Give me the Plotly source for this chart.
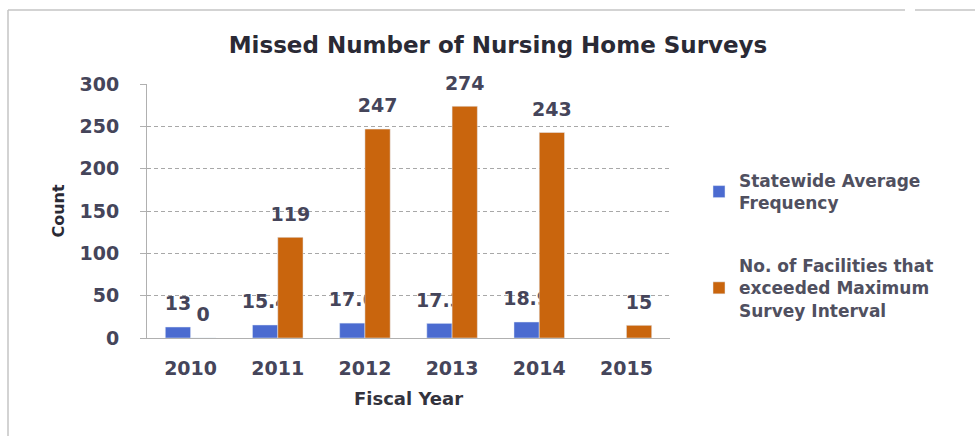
import plotly.graph_objects as go

years = ["2010", "2011", "2012", "2013", "2014", "2015"]
avg_frequency = [13, 15.4, 17.6, 17.3, 18.9, None]
exceeded_interval = [0, 119, 247, 274, 243, 15]

blue = "#4b6bd0"
orange = "#c9650d"
text_color = "#45455a"
font_family = "DejaVu Sans, sans-serif"

W, H = 975, 436
M_L, M_R, M_T, M_B = 147, 305, 84, 98
PLOT_W = W - M_L - M_R
PLOT_H = H - M_T - M_B


def px_x(px):
    return (px - M_L) / PLOT_W


def px_y(py):
    return (H - M_B - py) / PLOT_H


def labels(values):
    # value on the first line; a short second line lifts it clear of the bar top
    return ["" if v is None else f"<span style='font-size:19px'>{v:g}</span><br> "
            for v in values]


label_font = dict(size=9, color=text_color, family=font_family, weight="bold")

fig = go.Figure()
fig.add_trace(go.Bar(
    x=years, y=avg_frequency, name="Statewide Average<br>Frequency",
    legendgroup="avg", marker_color=blue,
    text=labels(avg_frequency), textposition="outside",
    textfont=label_font, constraintext="none", cliponaxis=False,
))
fig.add_trace(go.Bar(
    x=years, y=exceeded_interval,
    name="No. of Facilities that<br>exceeded Maximum<br>Survey Interval",
    legendgroup="exceeded", marker_color=orange,
    text=labels(exceeded_interval), textposition="outside",
    textfont=label_font, constraintext="none", cliponaxis=False,
))

fig.update_layout(
    width=W, height=H,
    margin=dict(l=M_L, r=M_R, t=M_T, b=M_B),
    paper_bgcolor="white", plot_bgcolor="white",
    barmode="group", bargap=0.42, bargroupgap=0,
    font=dict(family=font_family, color=text_color),
    showlegend=True,
    title=dict(
        text="<b>Missed Number of Nursing Home Surveys</b>",
        x=498 / W, xanchor="center", y=1 - 45 / H, yanchor="middle",
        font=dict(size=23, color="#2a2a35", family=font_family),
    ),
    legend=dict(
        x=px_x(699), xanchor="left", y=px_y(163), yanchor="top",
        font=dict(size=17, color="#50505f", family=font_family, weight="bold"),
        tracegroupgap=38, itemwidth=30,
    ),
    xaxis=dict(
        showline=True, linecolor="#b0b0b0", linewidth=1,
        ticks="", tickfont=dict(size=19, weight="bold"),
        ticklabelstandoff=13,
        title=dict(text="<b>Fiscal Year</b>", font=dict(size=18, color="#33333d"), standoff=14),
    ),
    yaxis=dict(
        range=[0, 300.3], dtick=50,
        showgrid=True, gridcolor="#a8a8a8", griddash="4px,3px", gridwidth=1,
        showline=True, linecolor="#b0b0b0", linewidth=1,
        ticks="outside", ticklen=6, tickcolor="#b0b0b0",
        tickfont=dict(size=19, weight="bold"),
        ticklabelstandoff=17,
        zeroline=False,
        title=dict(text="<b>Count</b>", font=dict(size=16, color="#2a2a35"), standoff=10),
    ),
    shapes=[
        dict(type="line", xref="paper", yref="paper",
             x0=px_x(8), x1=px_x(8), y0=px_y(10), y1=px_y(H),
             line=dict(color="#c4c4c4", width=1.5), layer="below"),
        dict(type="line", xref="paper", yref="paper",
             x0=px_x(8), x1=px_x(905), y0=px_y(10), y1=px_y(10),
             line=dict(color="#c4c4c4", width=1.5), layer="below"),
        dict(type="line", xref="paper", yref="paper",
             x0=px_x(915), x1=px_x(W), y0=px_y(10), y1=px_y(10),
             line=dict(color="#c4c4c4", width=1.5), layer="below"),
    ],
)

fig.write_html("out.html")
